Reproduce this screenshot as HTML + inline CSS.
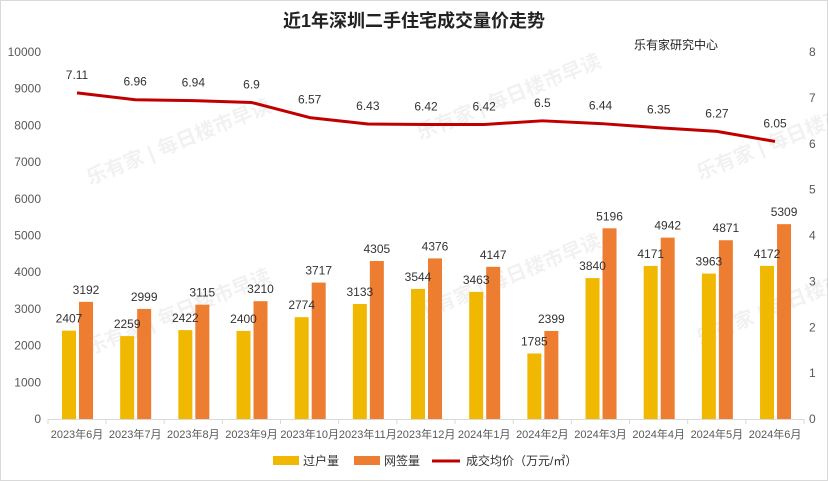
<!DOCTYPE html>
<html><head><meta charset="utf-8"><style>
html,body{margin:0;padding:0;background:#fff}
svg{display:block;font-family:"Liberation Sans","Noto Sans CJK SC",sans-serif}
</style></head><body>
<svg width="828" height="481" viewBox="0 0 828 481" xmlns="http://www.w3.org/2000/svg">
<rect x="0.5" y="0.5" width="827" height="480" fill="#fff" stroke="#d9d9d9"/>
<text x="414" y="27" text-anchor="middle" font-size="18" font-weight="bold" fill="#222">近1年深圳二手住宅成交量价走势</text>
<text x="676" y="49" text-anchor="middle" font-size="12" fill="#222">乐有家研究中心</text>
<g font-size="12" fill="#595959" text-anchor="end" id="ly"></g>
<g font-size="12" fill="#595959" text-anchor="start" id="ry"></g>
<line x1="48" y1="419.5" x2="804" y2="419.5" stroke="#d9d9d9"/>
<g id="wm" font-size="20" font-weight="bold" fill="#000" fill-opacity="0.055"></g>
<g id="bars"></g>
<g id="xl" font-size="11" fill="#595959" text-anchor="middle"></g>
<g id="line"></g>
<g font-size="12" fill="#333">
<rect x="273" y="456" width="26" height="9" fill="#f0b800"/><text x="303" y="465">过户量</text>
<rect x="354" y="456" width="26" height="9" fill="#ed7d31"/><text x="384" y="465">网签量</text>
<line x1="432" y1="461" x2="460" y2="461" stroke="#c00000" stroke-width="3"/><text x="466" y="465">成交均价（万元/㎡）</text>
</g>
</svg>
<script>
var ns="http://www.w3.org/2000/svg";
function el(p,t,a,txt){var e=document.createElementNS(ns,t);for(var k in a)e.setAttribute(k,a[k]);if(txt!=null)e.textContent=txt;document.getElementById(p).appendChild(e);return e;}
var z=419,pk=367/10000,pr=367/8;
for(var i=0;i<=10;i++)el('ly','text',{x:41,y:z-i*1000*pk+4},String(i*1000));
for(var i=0;i<=8;i++)el('ry','text',{x:809,y:z-i*pr+4},String(i));
var lab=["2023年6月","2023年7月","2023年8月","2023年9月","2023年10月","2023年11月","2023年12月","2024年1月","2024年2月","2024年3月","2024年4月","2024年5月","2024年6月"];
var a=[2407,2259,2422,2400,2774,3133,3544,3463,1785,3840,4171,3963,4172];
var b=[3192,2999,3115,3210,3717,4305,4376,4147,2399,5196,4942,4871,5309];
var p=[7.11,6.96,6.94,6.9,6.57,6.43,6.42,6.42,6.5,6.44,6.35,6.27,6.05];
var pts=[];
for(var i=0;i<13;i++){
 var c=77+i*58.17;
 var ya=z-a[i]*pk,yb=z-b[i]*pk;
 el('bars','rect',{x:c-15,y:ya,width:14,height:z-ya,fill:'#f0b800'});
 el('bars','rect',{x:c+2,y:yb,width:14,height:z-yb,fill:'#ed7d31'});
 el('bars','text',{x:c-8,y:ya-8,'font-size':12,fill:'#333','text-anchor':'middle'},String(a[i]));
 el('bars','text',{x:c+9,y:yb-8,'font-size':12,fill:'#333','text-anchor':'middle'},String(b[i]));
 el('xl','text',{x:c,y:438},lab[i]);
 el('xl','line',{x1:c+29,y1:419,x2:c+29,y2:424,stroke:'#d9d9d9'});
 var yp=z-p[i]*pr;pts.push(c+','+yp);
 el('line','text',{x:c,y:yp-14,'font-size':12,fill:'#333','text-anchor':'middle'},String(p[i]));
}
el('xl','line',{x1:48,y1:419,x2:48,y2:424,stroke:'#d9d9d9'});
el('line','polyline',{points:pts.join(' '),fill:'none',stroke:'#c00000','stroke-width':3,'stroke-linejoin':'round'});
var w=[[90,185],[420,140],[700,180],[90,355],[420,320],[700,345]];
w.forEach(function(q){el('wm','text',{x:q[0],y:q[1],transform:'rotate(-22 '+q[0]+' '+q[1]+')'},'乐有家 | 每日楼市早读');});
</script>
</body></html>
